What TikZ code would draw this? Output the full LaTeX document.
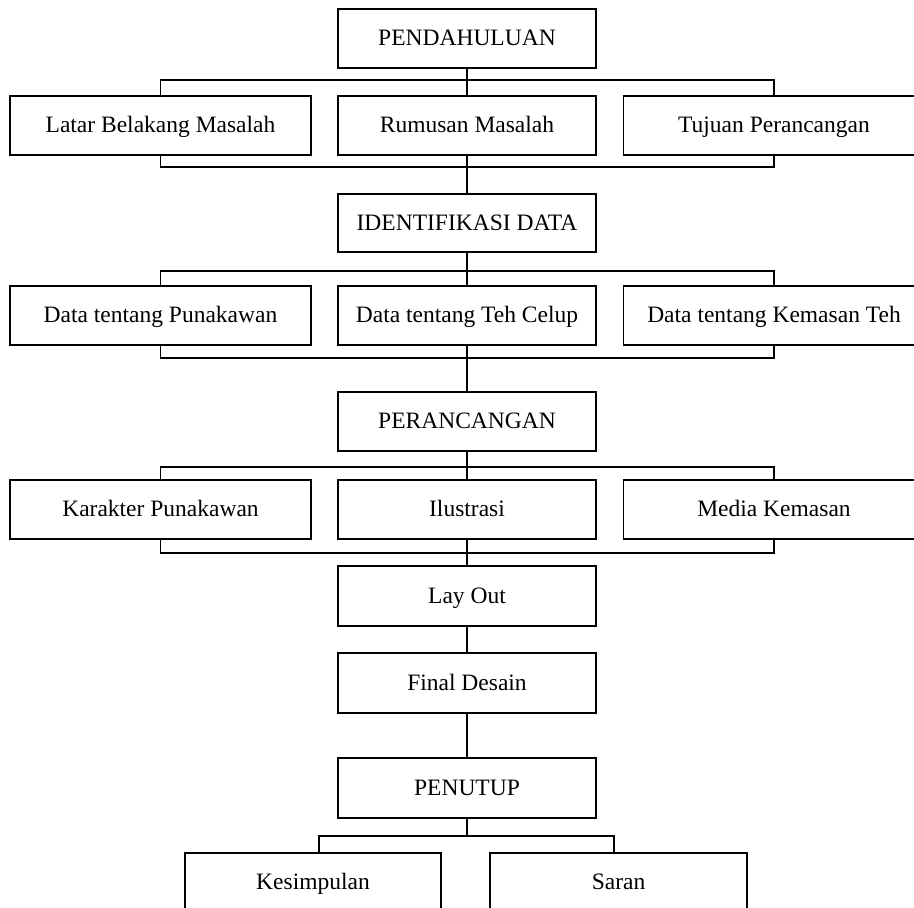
\documentclass[tikz,border=0pt]{standalone}
\usepackage{fontspec}
\setmainfont{Liberation Serif}
\begin{document}
\begin{tikzpicture}[x=1pt,y=-1pt,
  box/.style={draw, line width=1.7pt, minimum height=59pt, inner sep=0pt, text height=17pt, text depth=2.5pt, font=\fontsize{23.5}{28}\selectfont},
  wide/.style={box, minimum width=301pt},
  mid/.style={box, minimum width=258pt},
  link/.style={line width=1.7pt}]
\useasboundingbox (0,0) rectangle (914,908);
\clip (0,0) rectangle (914,908);
% level 1
\node[mid] (pend) at (467,38.5) {PENDAHULUAN};
\node[wide] (lbm) at (160.5,125.5) {Latar Belakang Masalah};
\node[mid] (rm) at (467,125.5) {Rumusan Masalah};
\node[wide] (tp) at (774,125.5) {Tujuan Perancangan};
% level 2
\node[mid, minimum height=58pt] (idf) at (467,223) {IDENTIFIKASI DATA};
\node[wide] (dtp) at (160.5,315.5) {Data tentang Punakawan};
\node[mid] (dtt) at (467,315.5) {Data tentang Teh Celup};
\node[wide] (dtk) at (774,315.5) {Data tentang Kemasan Teh};
% level 3
\node[mid] (per) at (467,421.5) {PERANCANGAN};
\node[wide] (kp) at (160.5,509.5) {Karakter Punakawan};
\node[mid] (il) at (467,509.5) {Ilustrasi};
\node[wide] (mk) at (774,509.5) {Media Kemasan};
\node[mid, minimum height=60pt] (lay) at (467,596) {Lay Out};
\node[mid, minimum height=60pt] (fin) at (467,683) {Final Desain};
% level 4
\node[mid, minimum height=60pt] (pnt) at (467,788) {PENUTUP};
\node[box, minimum width=256pt] (kes) at (313,882.5) {Kesimpulan};
\node[box, minimum width=257pt] (sar) at (618.5,882.5) {Saran};
% bus coordinates
\coordinate (b1) at (467,80);
\coordinate (b1b) at (467,167);
\coordinate (b2) at (467,271);
\coordinate (b2b) at (467,358);
\coordinate (b3) at (467,467);
\coordinate (b3b) at (467,553);
\coordinate (b4) at (467,836);
% connectors
\draw[link] (pend.south) -- (rm.north);
\draw[link] (lbm.north) |- (b1) -| (tp.north);
\draw[link] (lbm.south) |- (b1b) -| (tp.south);
\draw[link] (rm.south) -- (idf.north);
\draw[link] (idf.south) -- (dtt.north);
\draw[link] (dtp.north) |- (b2) -| (dtk.north);
\draw[link] (dtp.south) |- (b2b) -| (dtk.south);
\draw[link] (dtt.south) -- (per.north);
\draw[link] (per.south) -- (il.north);
\draw[link] (kp.north) |- (b3) -| (mk.north);
\draw[link] (kp.south) |- (b3b) -| (mk.south);
\draw[link] (il.south) -- (lay.north);
\draw[link] (lay.south) -- (fin.north);
\draw[link] (fin.south) -- (pnt.north);
\draw[link] (pnt.south) -- (b4);
\draw[link] ([xshift=6pt]kes.north) |- (b4) -| ([xshift=-4.5pt]sar.north);
\end{tikzpicture}
\end{document}
